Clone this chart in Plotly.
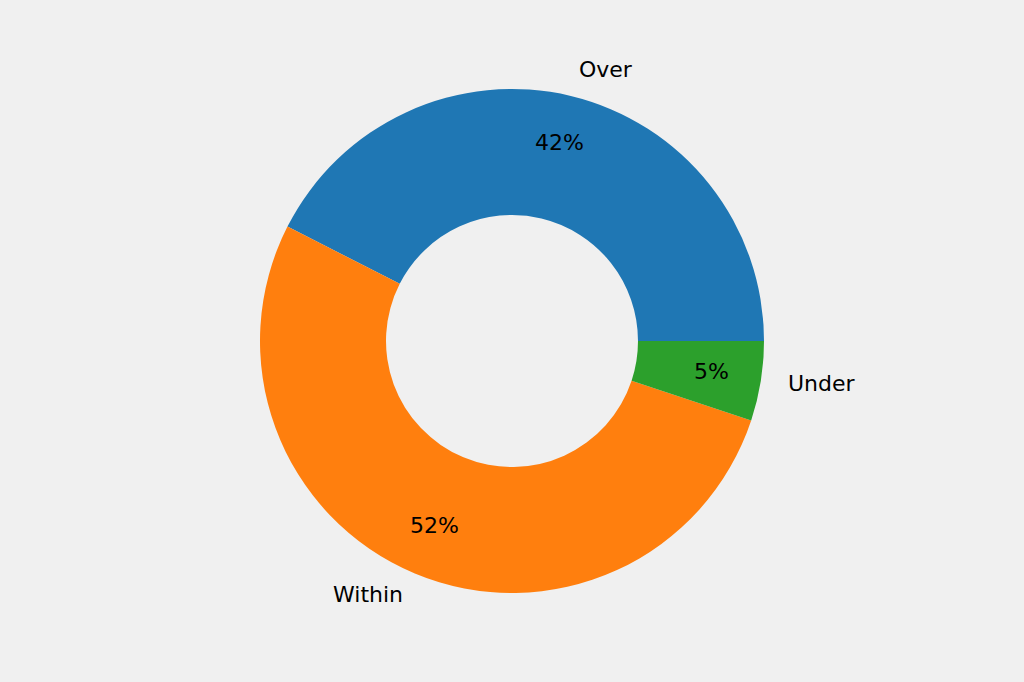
import math
import plotly.graph_objects as go

# share of items by budget status
labels = ["Over", "Within", "Under"]
shares = [42.5, 52.4, 5.1]
pct_labels = ["42%", "52%", "5%"]
colors = ["#1f77b4", "#ff7f0e", "#2ca02c"]

W, H = 1024, 682
R = 252  # outer radius in px
FONT = "DejaVu Sans"

total = sum(shares)
# plotly's ccw mode puts the first slice clockwise of `rotation`,
# so shift it to make the first slice start at 3 o'clock
rotation = 90 - 360.0 * shares[0] / total

fig = go.Figure(go.Pie(
    labels=labels,
    values=shares,
    hole=0.5,
    sort=False,
    direction="counterclockwise",
    rotation=rotation,
    marker=dict(colors=colors, line=dict(width=0)),
    textinfo="none",
    hoverinfo="label+percent",
    showlegend=False,
    domain=dict(x=[0.5 - R / W, 0.5 + R / W], y=[0.5 - R / H, 0.5 + R / H]),
))

# place labels like matplotlib: names at 1.1 R, percentages at 0.8 R
start = 0.0
for name, val, pct in zip(labels, shares, pct_labels):
    span = 360.0 * val / total
    mid = math.radians(start + span / 2)
    start += span
    cx, cy = math.cos(mid), math.sin(mid)
    fig.add_annotation(
        x=0.5 + 1.1 * R * cx / W, y=0.5 + 1.1 * R * cy / H + 2.0 / H,
        xref="paper", yref="paper", text=name, showarrow=False,
        xanchor="left" if cx > 0 else "right", yanchor="middle",
        font=dict(family=FONT, size=22, color="#000000"),
    )
    fig.add_annotation(
        x=0.5 + 0.8 * R * cx / W, y=0.5 + 0.8 * R * cy / H + 2.0 / H,
        xref="paper", yref="paper", text=pct, showarrow=False,
        xanchor="center", yanchor="middle",
        font=dict(family=FONT, size=22, color="#000000"),
    )

fig.update_layout(
    width=W, height=H,
    margin=dict(l=0, r=0, t=0, b=0),
    paper_bgcolor="#f0f0f0",
    plot_bgcolor="#f0f0f0",
)
fig.write_html("out.html", config={"displayModeBar": False},
               post_script="document.body.style.margin='0';")
